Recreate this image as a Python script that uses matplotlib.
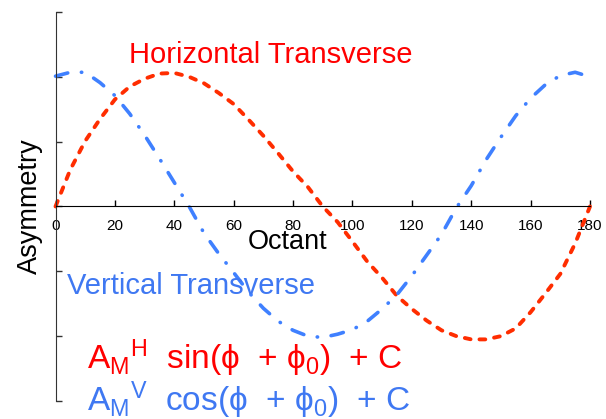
import matplotlib
matplotlib.use("Agg")
import matplotlib.pyplot as plt

plt.rcParams["font.family"] = ["Liberation Sans", "DejaVu Sans"]
plt.rcParams["mathtext.fontset"] = "custom"
plt.rcParams["mathtext.rm"] = "Liberation Sans"
plt.rcParams["mathtext.it"] = "Liberation Sans"

# values, one point every 5 degrees
octant = list(range(0, 181, 5))
horizontal = [0.0, 0.57, 1.01, 1.35, 1.65, 1.85, 1.97, 2.05, 2.06, 2.0,
              1.90, 1.75, 1.58, 1.34, 1.09, 0.82, 0.54, 0.30, 0.0, -0.24,
              -0.54, -0.85, -1.10, -1.38, -1.58, -1.76, -1.91, -2.0, -2.05, -2.05,
              -2.0, -1.88, -1.63, -1.34, -1.04, -0.57, 0.0]
vertical = [2.01, 2.07, 2.07, 1.91, 1.71, 1.43, 1.10, 0.74, 0.37, 0.0,
            -0.41, -0.73, -1.02, -1.32, -1.57, -1.77, -1.91, -2.0, -2.02, -1.97,
            -1.90, -1.77, -1.58, -1.36, -1.07, -0.75, -0.43, -0.02, 0.32, 0.72,
            1.07, 1.40, 1.67, 1.88, 2.02, 2.07, 2.0]
xticks = list(range(0, 181, 20))
yticks = [-3, -2, -1, 0, 1, 2, 3]

red_line = "#ff2d00"
blue_line = "#3f80ff"
red_text = "#ff0000"
blue_text = "#3f78f2"

fig = plt.figure(figsize=(6.06, 4.19), dpi=100)
ax = fig.add_axes([0.0916, 0.043, 0.8820, 0.9284])

ax.plot(octant, horizontal, color=red_line, lw=2.8, dashes=(1.5, 2.3),
        dash_capstyle="round", clip_on=False)
ax.plot(octant, vertical, color=blue_line, lw=2.6, dashes=(3.5, 3.8, 0.1, 3.8),
        dash_capstyle="round", clip_on=False)

ax.set_xlim(0, 180)
ax.set_ylim(-3, 3)
ax.set_xticks(xticks)
ax.set_yticks(yticks)
ax.set_yticklabels([])
ax.spines["top"].set_visible(False)
ax.spines["right"].set_visible(False)
ax.spines["bottom"].set_position(("data", 0))
ax.spines["left"].set_color("#333333")
ax.tick_params(direction="in", length=4, width=1, labelsize=11, pad=9)
ax.tick_params(axis="y", colors="#333333")

ax.set_ylabel("Asymmetry", fontsize=19.5)
ax.yaxis.set_label_coords(-0.023, 0.5)
ax.text(78, -0.66, "Octant", fontsize=19.5, ha="center", va="baseline")

ax.text(24.7, 2.21, "Horizontal Transverse", color=red_text, fontsize=21,
        va="baseline")
ax.text(3.9, -1.35, "Vertical Transverse", color=blue_text, fontsize=21,
        va="baseline")
ax.text(10.6, -2.51, r"A$_\mathrm{M}$$^\mathrm{H}$  sin(ϕ  + ϕ$_\mathrm{0}$)  + C",
        color=red_text, fontsize=24, va="baseline")
ax.text(10.6, -3.16, r"A$_\mathrm{M}$$^\mathrm{V}$  cos(ϕ  + ϕ$_\mathrm{0}$)  + C",
        color=blue_text, fontsize=24, va="baseline")

fig.savefig("out.png", dpi=100)
